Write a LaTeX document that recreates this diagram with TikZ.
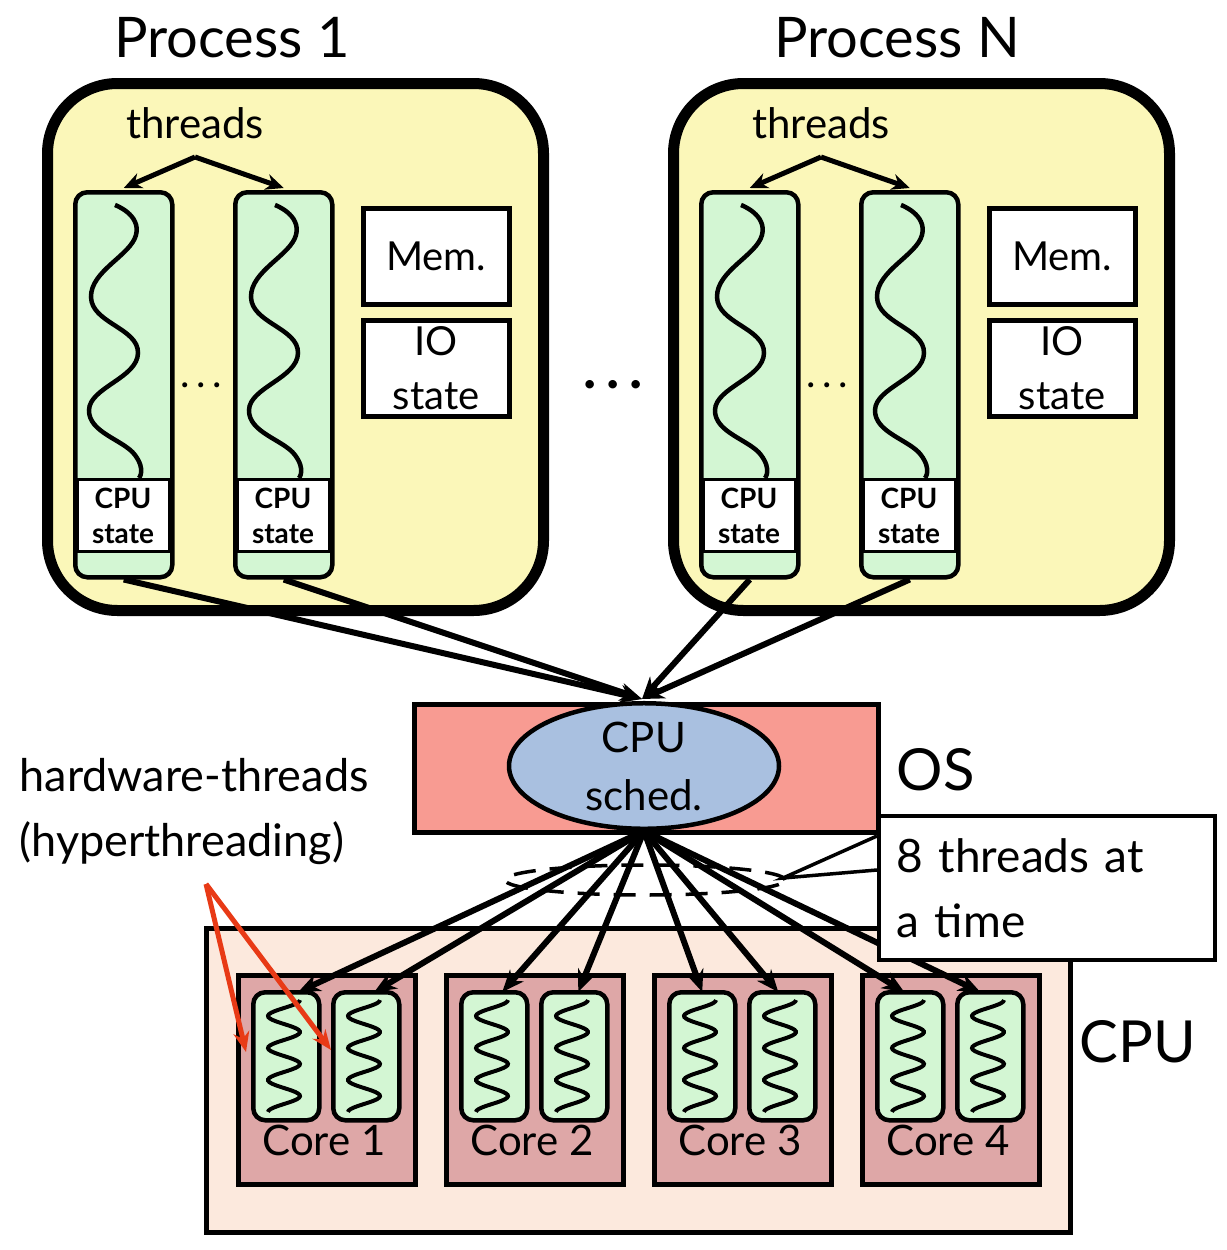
\documentclass[tikz,border=0pt]{standalone}
\usepackage{fontspec}
\setmainfont{Lato}
\usetikzlibrary{arrows.meta,shapes.geometric,calc}
\definecolor{procy}{HTML}{FBF7B9}
\definecolor{thrg}{HTML}{D3F6D3}
\definecolor{osred}{HTML}{F89B92}
\definecolor{schedb}{HTML}{A9C0E0}
\definecolor{cpubg}{HTML}{FCE9DD}
\definecolor{corer}{HTML}{DEA7A7}
\definecolor{redar}{HTML}{E83A16}
\newcommand{\fs}[2]{\fontsize{#1}{#2}\selectfont}
\tikzset{
  box/.style={draw,anchor=north west,inner sep=0,line width=4.5pt},
  proc/.style={box,fill=procy,line width=11pt,rounded corners=70pt},
  thr/.style={box,fill=thrg,rounded corners=12pt,minimum width=97pt,minimum height=385pt},
  cst/.style={box,fill=white,line width=3pt,minimum width=92pt,minimum height=72pt,align=center,font=\fs{28}{35}\bfseries},
  memb/.style={box,fill=white,minimum width=146pt,minimum height=96pt,align=center,font=\fs{40}{54}},
  hw/.style={box,fill=thrg,rounded corners=12pt,minimum width=66pt,minimum height=128pt},
  core/.style={box,fill=corer,minimum width=177pt,minimum height=209pt},
  arr/.style={line width=6pt,-{Stealth[length=22pt,width=18pt]}},
  wave/.style={line width=4.5pt},
}
\begin{document}
\begin{tikzpicture}[x=1pt,y=-1pt]
\useasboundingbox (0,0) rectangle (1226,1250);
% processes
\foreach \p/\dx/\lab/\tx in {a/0/Process 1/232,b/626/Process N/897}{
  \node[proc,minimum width=496pt,minimum height=527pt] (\p box) at (42+\dx,78) {};
  \node[font=\fs{56}{56}] (\p title) at (\tx,38) {\lab};
  \node[font=\fs{42}{42}] (\p thr) at (195+\dx,123) {threads};
  \coordinate (\p fork) at (195+\dx,157);
  \foreach \t/\tx in {1/73,2/233}{
    \node[thr] (\p t\t) at (\tx+\dx,190) {};
    \node[cst] (\p c\t) at (\tx+\dx+2.5,478) {CPU\\state};
    \draw[wave] plot[smooth,tension=0.8] coordinates {(\tx+\dx+42,205) (\tx+\dx+63,235) (\tx+\dx+18,297) (\tx+\dx+65,353) (\tx+\dx+16,410) (\tx+\dx+62,455) (\tx+\dx+66,478)};
  }
  \draw[line width=5pt,-{Stealth[length=18pt,width=16pt]}] (\p fork) -- ($(\p t1.north)+(-0,-2)$);
  \draw[line width=5pt,-{Stealth[length=18pt,width=16pt]}] (\p fork) -- ($(\p t2.north)+(-0,-2)$);
  \node[memb] (\p mem) at (361+\dx,206) {Mem.};
  \node[memb,minimum height=96pt] (\p io) at (361+\dx,318) {IO\\state};
  \node[font=\fs{40}{40}] (\p dots) at (201+\dx,385) {.\,.\,.};
}
\node[font=\bfseries\fs{56}{56}] (bigdots) at (613,385) {.\,.\,.};
% OS
\node[box,fill=osred,minimum width=464pt,minimum height=128pt] (os) at (412,702) {};
\node[draw,ellipse,fill=schedb,line width=4.5pt,minimum width=270pt,minimum height=124pt,align=center,font=\fs{42}{58},inner sep=0] (sched) at (644,766) {CPU\\sched.};
\node[font=\fs{58}{58},anchor=west] (oslab) at (893,770) {OS};
\foreach \s in {a,b}{
  \draw[arr] (\s t1.south) -- ($(sched.north)+(-2,-2)$);
  \draw[arr] (\s t2.south) -- ($(sched.north)+(-2,-2)$);
}
\node[font=\fs{45}{65},anchor=west,align=left] (hwl) at (16,812) {hardware-threads\\(hyperthreading)};
% CPU
\node[box,fill=cpubg,minimum width=864pt,minimum height=304pt] (cpu) at (204,926) {};
\node[font=\fs{58}{58}] (cpulab) at (1138,1042) {CPU};
\foreach \k/\cx in {1/236,2/444,3/652,4/860}{
  \node[core] (core\k) at (\cx,973) {};
  \node[font=\fs{42}{42}] (corel\k) at (\cx+88,1140) {Core \k};
}
\foreach \k/\hx in {1/251,2/331,3/459,4/539,5/667,6/747,7/875,8/955}{
  \node[hw] (hw\k) at (\hx,990) {};
  \draw[line width=4pt] plot[domain=0:1,samples=80,smooth] ({\hx+33+16*sin(\x*3.5*360+90)},{1000+\x*112});
}
\draw[line width=3.5pt,dash pattern=on 22pt off 14pt] (645,880) ellipse [x radius=140pt,y radius=15pt];
\foreach \k/\o in {1/12,2/8,3/8,4/4,5/0,6/-4,7/-6,8/-10}{
  \draw[arr] (sched.south) -- ($(hw\k.north)+(\o,2)$);
}
% callout
\node[box,fill=white,line width=3.5pt,minimum width=320pt,minimum height=144pt,align=left,font=\fs{46}{65},text width=300pt,inner xsep=18pt] (call) at (877,814) {8 threads at\\a time};
\coordinate (ctip) at (783,878);
\draw[line width=3.5pt] ($(call.north west)+(0,22)$) -- (ctip) -- ($(call.north west)+(0,56)$);
% red arrows
\coordinate (rsrc) at (206,884);
\draw[line width=5pt,redar,-{Stealth[length=20pt,width=16pt]}] (rsrc) -- (246,1052);
\draw[line width=5pt,redar,-{Stealth[length=20pt,width=16pt]}] (rsrc) -- (331,1050);
\end{tikzpicture}
\end{document}
